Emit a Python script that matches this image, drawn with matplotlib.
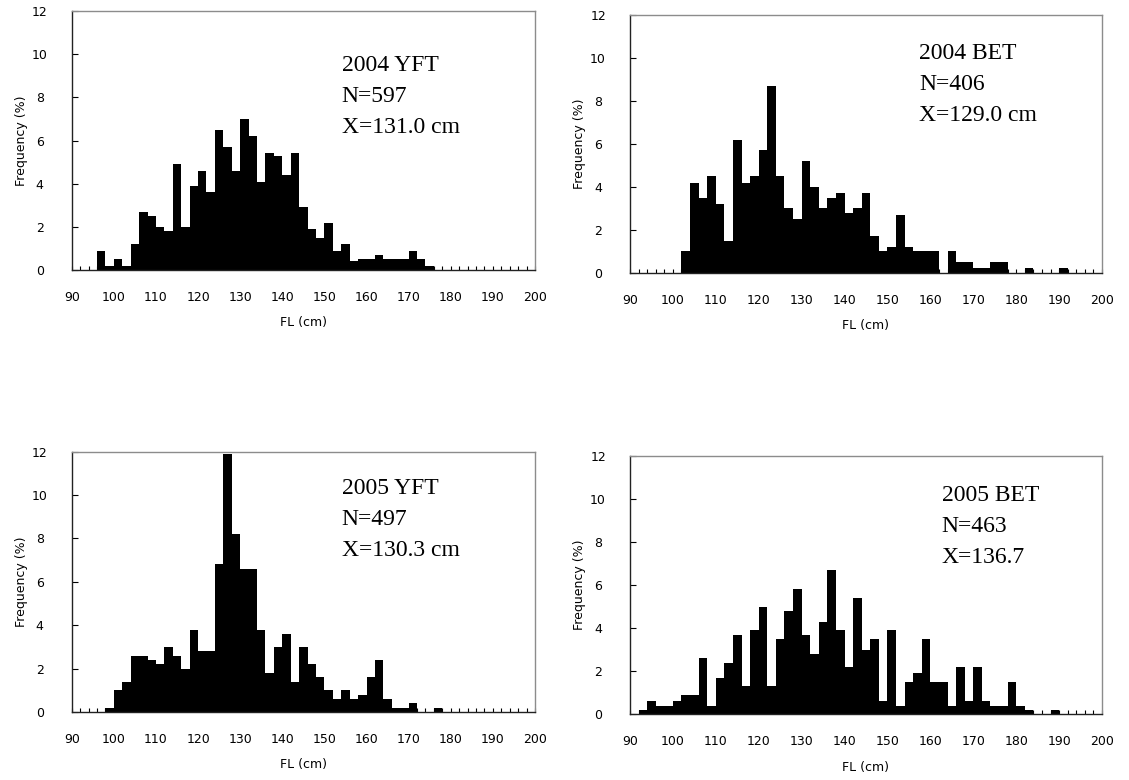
import numpy as np
import matplotlib
matplotlib.use("Agg")
import matplotlib.pyplot as plt

# fork length classes (cm, lower edge of 2 cm class) and frequency (%)
yft04_start = 96
yft04 = [0.9, 0.2, 0.5, 0.2, 1.2, 2.7, 2.5, 2.0, 1.8, 4.9,
         2.0, 3.9, 4.6, 3.6, 6.5, 5.7, 4.6, 7.0, 6.2, 4.1,
         5.4, 5.3, 4.4, 5.4, 2.9, 1.9, 1.5, 2.2, 0.9, 1.2,
         0.4, 0.5, 0.5, 0.7, 0.5, 0.5, 0.5, 0.9, 0.5, 0.2]

bet04_start = 102
bet04 = [1.0, 4.2, 3.5, 4.5, 3.2, 1.5, 6.2, 4.2, 4.5, 5.7,
         8.7, 4.5, 3.0, 2.5, 5.2, 4.0, 3.0, 3.5, 3.7, 2.8,
         3.0, 3.7, 1.7, 1.0, 1.2, 2.7, 1.2, 1.0, 1.0, 1.0,
         0.0, 1.0, 0.5, 0.5, 0.25, 0.25, 0.5, 0.5, 0.0, 0.0,
         0.25, 0.0, 0.0, 0.0, 0.25]

yft05_start = 98
yft05 = [0.2, 1.0, 1.4, 2.6, 2.6, 2.4, 2.2, 3.0, 2.6, 2.0,
         3.8, 2.8, 2.8, 6.8, 11.9, 8.2, 6.6, 6.6, 3.8, 1.8,
         3.0, 3.6, 1.4, 3.0, 2.2, 1.6, 1.0, 0.6, 1.0, 0.6,
         0.8, 1.6, 2.4, 0.6, 0.2, 0.2, 0.4, 0.0, 0.0, 0.2]

bet05_start = 92
bet05 = [0.2, 0.6, 0.4, 0.4, 0.6, 0.9, 0.9, 2.6, 0.4, 1.7,
         2.4, 3.7, 1.3, 3.9, 5.0, 1.3, 3.5, 4.8, 5.8, 3.7,
         2.8, 4.3, 6.7, 3.9, 2.2, 5.4, 3.0, 3.5, 0.6, 3.9,
         0.4, 1.5, 1.9, 3.5, 1.5, 1.5, 0.4, 2.2, 0.6, 2.2,
         0.6, 0.4, 0.4, 1.5, 0.4, 0.2, 0.0, 0.0, 0.2]

labels = ["2004 YFT\nN=597\nX=131.0 cm",
          "2004 BET\nN=406\nX=129.0 cm",
          "2005 YFT\nN=497\nX=130.3 cm",
          "2005 BET\nN=463\nX=136.7"]

W, H = 1129, 780
fig = plt.figure(figsize=(W / 100, H / 100), dpi=100)


def panel(box, start, vals, txt, txtpos):
    l, t, r, b = box
    ax = fig.add_axes([l / W, 1 - b / H, (r - l) / W, (b - t) / H])
    x = start + 2 * np.arange(len(vals))
    ax.bar(x, vals, width=2, align='edge', color='black', linewidth=0)
    ax.set_xlim(90, 200)
    ax.set_ylim(0, 12)
    ax.set_xticks(np.arange(90, 201, 10))
    ax.set_xticks(np.arange(90, 201, 2), minor=True)
    ax.set_yticks(np.arange(0, 13, 2))
    ax.tick_params(axis='x', which='both', direction='in', length=3,
                   width=0.8, pad=15, labelsize=9)
    ax.tick_params(axis='y', direction='in', length=4, width=0.8,
                   pad=23, labelsize=9)
    for lb in ax.get_yticklabels():
        lb.set_ha('center')
    for s in ['left', 'bottom']:
        ax.spines[s].set_color('#222222')
        ax.spines[s].set_linewidth(1.0)
    for s in ['top', 'right']:
        ax.spines[s].set_color('#8c8c8c')
        ax.spines[s].set_linewidth(1.0)
    ax.set_xlabel('FL (cm)', fontsize=9, labelpad=9)
    ax.set_ylabel('Frequency (%)', fontsize=9, labelpad=3)
    fig.text(txtpos[0] / W, 1 - (txtpos[1] - 2) / H, txt,
             fontsize=17, family='Liberation Serif', va='top', ha='left',
             linespacing=1.62)
    return ax


panel((71.7, 11, 535, 270), yft04_start, yft04, labels[0], (341.7, 56.7))
panel((630, 14.7, 1102, 273), bet04_start, bet04, labels[1], (919, 45))
panel((71.7, 451.7, 535, 712), yft05_start, yft05, labels[2], (341.7, 480))
panel((630, 455.7, 1102, 714.3), bet05_start, bet05, labels[3], (941.7, 486.7))

plt.savefig("out.png", dpi=100)
